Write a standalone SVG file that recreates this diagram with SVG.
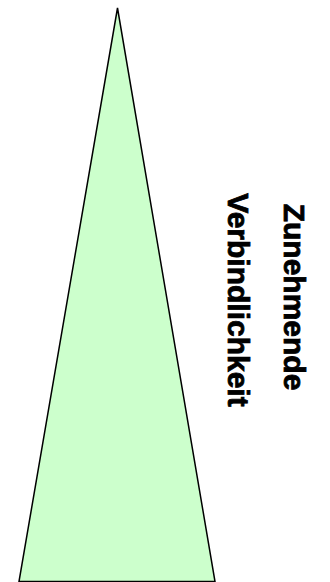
<svg xmlns="http://www.w3.org/2000/svg" width="330" height="582" viewBox="0 0 330 582">
<style>
.t{font-family:"Liberation Sans",Arial,sans-serif;font-weight:bold;font-size:30px;fill:#000;text-anchor:middle;stroke:#000;stroke-width:0.8}
</style>
<rect width="330" height="582" fill="#fff"/>
<g id="triangle">
<polygon points="117.5,8 215,581.5 19,581.5" fill="#ccffcc" stroke="#000" stroke-width="1.5" stroke-linejoin="miter"/>
</g>
<g id="label">
<text class="t" transform="translate(284,297) rotate(90)">Zunehmende</text>
<text class="t" transform="translate(228,300) rotate(90)">Verbindlichkeit</text>
</g>
</svg>
